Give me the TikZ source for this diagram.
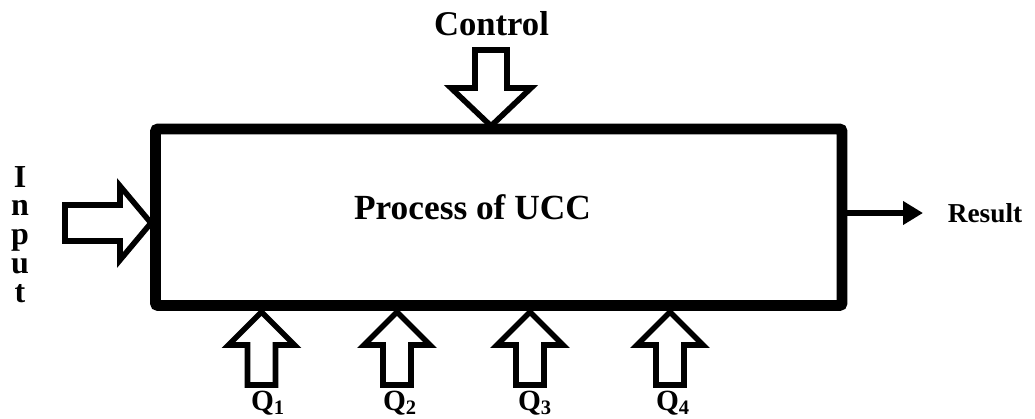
\documentclass[tikz,border=0pt]{standalone}
\usepackage{fontspec}
\setmainfont{Liberation Serif}
\usetikzlibrary{arrows.meta}
\tikzset{
  hollow/.style={draw, line width=4.2pt, fill=white, line join=miter},
  label/.style={inner sep=0pt, font=\bfseries\fontsize{#1}{#1}\selectfont},
}
\begin{document}
\begin{tikzpicture}[x=0.75pt,y=-0.75pt]
\useasboundingbox (0,0) rectangle (1035,418);
% hollow arrows
\draw[hollow] (475,50) -- (475,88) -- (451,88) -- (491,126) -- (531,88) -- (507,88) -- (507,50) -- cycle;
\draw[hollow] (65,205) -- (120,205) -- (120,186) -- (151,223) -- (120,260) -- (120,241) -- (65,241) -- cycle;
\foreach \x in {261.5,397,530,670}
  \draw[hollow] (\x-14,385) -- (\x-14,345) -- (\x-33,345) -- (\x,312) -- (\x+33,345) -- (\x+14,345) -- (\x+14,385) -- cycle;
% box
\node[draw, line width=8.2pt, rounded corners=2pt, minimum width=686.5pt*0.75, minimum height=176.5pt*0.75, inner sep=0pt] (proc) at (498.75,217.25) {};
\node[label=26.5pt] (ptext) at (472.5,207) {Process of UCC};
% labels
\node[label=26pt] (ctrl) at (491.5,24) {Control};
\foreach \ch [count=\i] in {I,n,p,u,t}
  \node[label=24pt, anchor=base] (in\i) at (20,187+\i*28.75-28.75) {\ch};
\foreach \x [count=\i] in {268,400,535,673}
  \node[label=22pt, anchor=base] (q\i) at (\x,410) {Q\textsubscript{\i}};
\node[label=20.5pt] (res) at (985,213) {Result};
% output
\coordinate (rtip) at (923,213);
\draw[line width=4.5pt, -{Triangle[length=15pt,width=17pt]}] (proc.east |- rtip) -- (rtip);
\end{tikzpicture}
\end{document}
